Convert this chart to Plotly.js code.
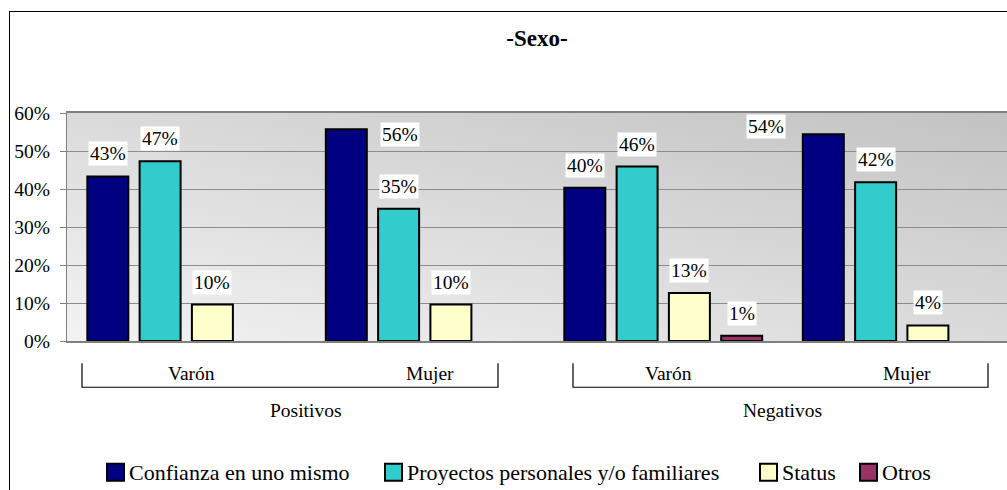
<!DOCTYPE html>
<html>
<head>
<meta charset="utf-8">
<script src="https://cdn.plot.ly/plotly-3.0.1.min.js"></script>
<style>
  html, body { margin: 0; padding: 0; background: #fff; overflow: hidden; width: 1007px; height: 490px; }
  #chart { position: absolute; left: 0; top: 0; width: 1030px; height: 490px; }
  #frame { position: absolute; left: 9px; top: 11px; width: 1100px; height: 600px; border: 1px solid #000; pointer-events: none; }
</style>
</head>
<body>
<div id="chart"></div>
<div id="frame"></div>
<script>
// ---- data ----
var groups = ['Positivos', 'Positivos', 'Negativos', 'Negativos'];
var subs = ['Varón', 'Mujer', 'Varón', 'Mujer'];
var seriesNames = ['Confianza en uno mismo', 'Proyectos personales y/o familiares', 'Status', 'Otros'];
var confianzaVals = [0.433, 0.557, 0.403, 0.544];
var proyectosVals = [0.473, 0.348, 0.459, 0.418];
var statusVals = [0.096, 0.096, 0.126, 0.041];
var otrosVals = [0, 0, 0.014, 0];
var yTickVals = [0, 0.1, 0.2, 0.3, 0.4, 0.5, 0.6];
var chartTitle = '-Sexo-';

// ---- styles ----
var colors = ['#000080', '#33CCCC', '#FFFFCC', '#993366'];
var FONT = 'Liberation Serif, Times New Roman, Times, serif';
var W = 1030, H = 490;
var M = {l: 67, r: 9, t: 112.5, b: 149.3};
var BARGAP = 0.123, GROUPGAP = 0.216;
// manual label nudges (px) for labels moved in the original: [category index, series index, dx, yshift]
var labelNudges = [[1, 0, 54, -18], [3, 0, -57, -5]];
// legend layout (pixel x of each key square, centre y, square size)
var legendKeyX = [107, 385, 760, 860];
var legendY = 472, legendKey = 17;

var xKeys = groups.map(function (g, i) { return g + ' · ' + subs[i]; });
var allSeries = [confianzaVals, proyectosVals, statusVals, otrosVals];

var traces = allSeries.map(function (vals, s) {
  return {
    type: 'bar',
    name: seriesNames[s],
    x: xKeys,
    y: vals,
    marker: {
      color: colors[s],
      line: {color: '#000', width: vals.map(function (v) { return v > 0 ? 2 : 0; })}
    },
    hoverinfo: 'none',
    showlegend: false
  };
});

var plotW = W - M.l - M.r;
var plotH = H - M.t - M.b;
var catW = plotW / xKeys.length;
var slot = catW * (1 - BARGAP) / allSeries.length;
function py(pix) { return (H - M.b - pix) / plotH; }
function px(pix) { return (pix - M.l) / plotW; }

var annotations = [];
allSeries.forEach(function (vals, s) {
  vals.forEach(function (v, i) {
    var pct = Math.round(v * 100);
    if (pct <= 0) return;
    var dx = 0, ys = 10;
    labelNudges.forEach(function (n) { if (n[0] === i && n[1] === s) { dx = n[2]; ys = n[3]; } });
    annotations.push({
      x: xKeys[i], y: v, xref: 'x', yref: 'y',
      text: pct + '%', showarrow: false,
      xanchor: 'center', yanchor: 'bottom',
      xshift: (s - (allSeries.length - 1) / 2) * slot + dx,
      yshift: ys,
      bgcolor: '#ffffff', borderpad: 1,
      font: {family: FONT, size: 19.5, color: '#000'}
    });
  });
});

// group labels (centred under each pair of categories)
var groupNames = [];
groups.forEach(function (g) { if (groupNames.indexOf(g) < 0) groupNames.push(g); });
groupNames.forEach(function (g, k) {
  annotations.push({
    x: (k + 0.5) / groupNames.length,
    xref: 'paper', y: py(410), yref: 'paper', yanchor: 'middle', xanchor: 'center',
    text: g, showarrow: false,
    font: {family: FONT, size: 19.5, color: '#000'}
  });
});

// brackets under the category labels
var brackets = [[82, 498], [573, 988]];
var shapes = brackets.map(function (b) {
  return {
    type: 'path', xref: 'paper', yref: 'paper',
    path: 'M ' + px(b[0]) + ' ' + py(363) + ' L ' + px(b[0]) + ' ' + py(387) +
          ' L ' + px(b[1]) + ' ' + py(387) + ' L ' + px(b[1]) + ' ' + py(363),
    line: {color: '#000', width: 1.2}
  };
});

// legend (keys + names)
seriesNames.forEach(function (name, s) {
  var x0 = legendKeyX[s];
  shapes.push({
    type: 'rect', xref: 'paper', yref: 'paper',
    x0: px(x0), x1: px(x0 + legendKey),
    y0: py(legendY - legendKey / 2), y1: py(legendY + legendKey / 2),
    fillcolor: colors[s], line: {color: '#000', width: 2}
  });
  annotations.push({
    x: px(x0 + legendKey + 3), xref: 'paper', y: py(legendY), yref: 'paper',
    xanchor: 'left', yanchor: 'middle', text: name, showarrow: false,
    font: {family: FONT, size: 22, color: '#000'}
  });
});

var svg = '<svg xmlns="http://www.w3.org/2000/svg" width="100" height="100" viewBox="0 0 100 100" preserveAspectRatio="none">' +
  '<defs><linearGradient id="g" x1="1" y1="0" x2="0" y2="1">' +
  '<stop offset="0" stop-color="#c2c2c2"/><stop offset="1" stop-color="#f3f3f3"/></linearGradient></defs>' +
  '<rect x="0" y="0" width="100" height="100" fill="url(#g)"/></svg>';

var layout = {
  width: W, height: H,
  margin: Object.assign({autoexpand: false}, M),
  paper_bgcolor: '#ffffff',
  plot_bgcolor: '#dcdcdc',
  font: {family: FONT, size: 19.5, color: '#000'},
  title: {
    text: '<b>' + chartTitle + '</b>',
    xref: 'container', yref: 'container',
    x: 537 / W, y: 1 - 38 / H, xanchor: 'center', yanchor: 'middle',
    font: {family: FONT, size: 23, color: '#000'}
  },
  barmode: 'group',
  bargap: BARGAP,
  bargroupgap: GROUPGAP,
  showlegend: false,
  xaxis: {
    type: 'category',
    tickvals: xKeys, ticktext: subs,
    ticks: '', showgrid: false, zeroline: false,
    showline: true, linecolor: '#808080', linewidth: 2, mirror: true,
    ticklabelstandoff: 14, ticklabelshift: 5, automargin: false,
    tickfont: {family: FONT, size: 19.5, color: '#000'},
    fixedrange: true
  },
  yaxis: {
    range: [0, 0.6],
    tickvals: yTickVals, tickformat: '.0%',
    ticks: 'outside', ticklen: 6, tickcolor: '#808080', tickwidth: 1,
    showgrid: true, gridcolor: '#8c8c8c', gridwidth: 1,
    zeroline: false, showline: true, linecolor: '#808080', linewidth: 1,
    ticklabelstandoff: 6, automargin: false,
    tickfont: {family: FONT, size: 19.5, color: '#000'},
    fixedrange: true
  },
  images: [{
    source: 'data:image/svg+xml;charset=utf-8,' + encodeURIComponent(svg),
    xref: 'paper', yref: 'paper', x: 0, y: 1, sizex: 1, sizey: 1,
    xanchor: 'left', yanchor: 'top', sizing: 'stretch', layer: 'below'
  }],
  annotations: annotations,
  shapes: shapes
};

Plotly.newPlot('chart', traces, layout, {staticPlot: true, displayModeBar: false});
</script>
</body>
</html>
